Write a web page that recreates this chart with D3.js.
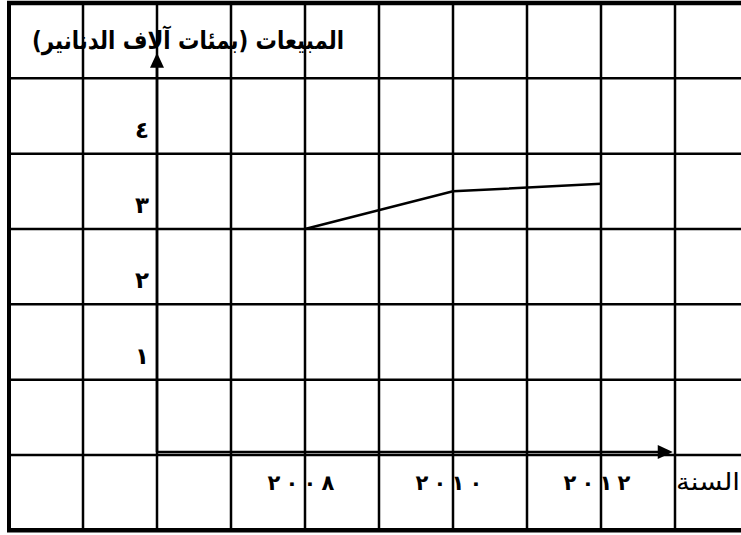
<!DOCTYPE html>
<html>
<head>
<meta charset="utf-8">
<script src="https://cdn.jsdelivr.net/npm/d3@7"></script>
<style>
  body { margin: 0; background: #fff; }
  text { font-family: "DejaVu Sans", sans-serif; fill: #000; }
  .ltr { direction: ltr; unicode-bidi: bidi-override; }
</style>
</head>
<body>
<div id="chart"></div>
<script>
// data
const years = [2008, 2010, 2012];
const sales = [3, 3.5, 3.6];
const xTickValues = [2008, 2010, 2012];
const xTickLabels = ["٢٠٠٨", "٢٠١٠", "٢٠١٢"];
const yTickValues = [1, 2, 3, 4];
const yTickLabels = ["١", "٢", "٣", "٤"];
const gridYears = [2004, 2005, 2006, 2007, 2008, 2009, 2010, 2011, 2012, 2013];
const gridValues = [-1, 0, 1, 2, 3, 4, 5, 6];
const yTitle = "المبيعات (بمئات آلاف الدنانير)";
const xTitle = "السنة";

const width = 741, height = 535;

const x = d3.scaleLinear().domain([2006, 2008]).range([157, 305]);
const y = d3.scaleLinear().domain([0, 6]).range([455, 3]);

const svg = d3.select("#chart").append("svg")
  .attr("width", width)
  .attr("height", height);

// grid
const grid = svg.append("g").attr("stroke", "#000");
grid.selectAll("line.v")
  .data(gridYears)
  .join("line")
  .attr("class", "v")
  .attr("x1", d => x(d)).attr("x2", d => x(d))
  .attr("y1", y(6)).attr("y2", y(-1))
  .attr("stroke-width", (d, i) => i === 0 ? 4 : 2.5);
grid.selectAll("line.h")
  .data(gridValues)
  .join("line")
  .attr("class", "h")
  .attr("x1", x(2004) - 2).attr("x2", width)
  .attr("y1", d => y(d)).attr("y2", d => y(d))
  .attr("stroke-width", d => (d === -1 || d === 6) ? 4.5 : 2.5);

// axes with arrows
const axes = svg.append("g");
const x0 = x(2006), y0 = y(0) - 3;
const yTop = y(5.34), xEnd = x(2012.97);
axes.append("line")
  .attr("x1", x0).attr("x2", x0)
  .attr("y1", y0).attr("y2", yTop + 10)
  .attr("stroke", "#000").attr("stroke-width", 2.5);
axes.append("path")
  .attr("d", `M${x0},${yTop} L${x0 - 7},${yTop + 15} L${x0 + 7},${yTop + 15} Z`)
  .attr("fill", "#000");
axes.append("line")
  .attr("x1", x0).attr("x2", xEnd - 10)
  .attr("y1", y0).attr("y2", y0)
  .attr("stroke", "#000").attr("stroke-width", 2.5);
axes.append("path")
  .attr("d", `M${xEnd},${y0} L${xEnd - 15},${y0 - 7} L${xEnd - 15},${y0 + 7} Z`)
  .attr("fill", "#000");

// tick labels
svg.append("g").selectAll("text")
  .data(yTickValues)
  .join("text")
  .attr("x", x0 - 8)
  .attr("y", d => y(d) - 16)
  .attr("text-anchor", "end")
  .attr("font-size", 23)
  .attr("font-weight", "bold")
  .text((d, i) => yTickLabels[i]);

// year labels: digits spread out like the original
const digitStep = 18;
svg.append("g").selectAll("text")
  .data(xTickValues)
  .join("text")
  .attr("class", "ltr")
  .attr("x", d => [-1.5, -0.5, 0.5, 1.5].map(k => x(d) - 4 + k * digitStep).join(" "))
  .attr("y", y(-0.47))
  .attr("text-anchor", "middle")
  .attr("font-size", 21)
  .attr("font-weight", "bold")
  .text((d, i) => xTickLabels[i]);

// line
const line = d3.line()
  .x((d, i) => x(years[i]))
  .y(d => y(d));
svg.append("path")
  .datum(sales)
  .attr("d", line)
  .attr("fill", "none")
  .attr("stroke", "#000")
  .attr("stroke-width", 2.5);

// titles
svg.append("text")
  .attr("x", 188)
  .attr("y", 49)
  .attr("text-anchor", "middle")
  .attr("direction", "rtl")
  .attr("font-size", 25)
  .attr("font-weight", "bold")
  .attr("textLength", 312)
  .attr("lengthAdjust", "spacingAndGlyphs")
  .text(yTitle);

svg.append("text")
  .attr("x", 740)
  .attr("y", y(-0.47))
  .attr("text-anchor", "end")
  .attr("font-size", 24)
  .attr("textLength", 64)
  .attr("lengthAdjust", "spacingAndGlyphs")
  .text(xTitle);
</script>
</body>
</html>
